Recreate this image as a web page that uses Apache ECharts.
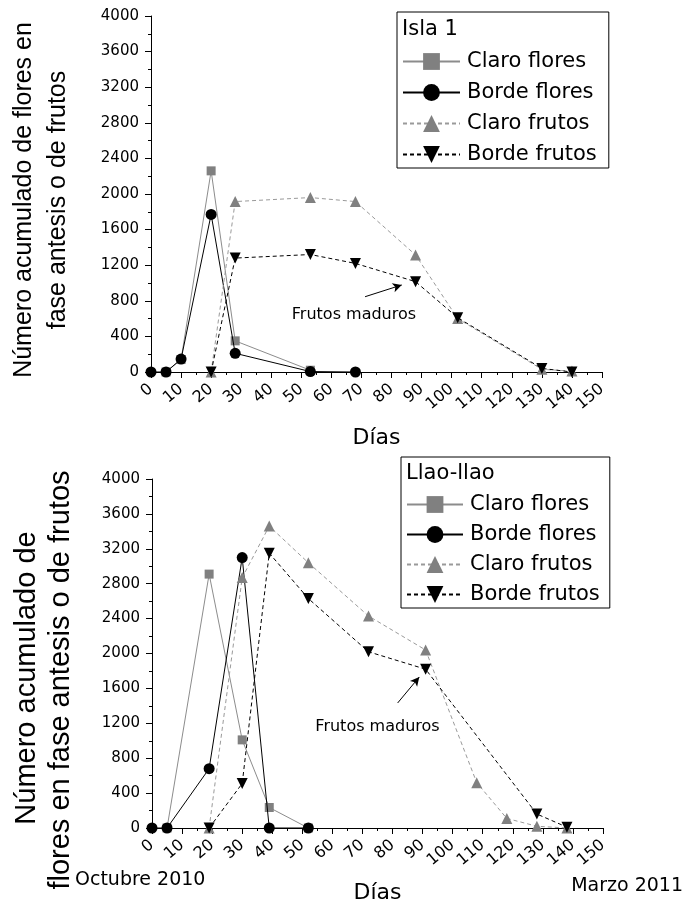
<!DOCTYPE html>
<html>
<head>
<meta charset="utf-8">
<script src="https://cdn.jsdelivr.net/npm/echarts@6/dist/echarts.min.js"></script>
<style>html,body{margin:0;padding:0;background:#fff}#c{width:686px;height:905px}</style>
</head>
<body>
<div id="c"></div>
<script>
// ---------- Data: Isla 1 (top) ----------
const islaClaroFloresX = [5, 10, 20, 28, 53];
const islaClaroFloresY = [0, 140, 2260, 350, 20];
const islaBordeFloresX = [0, 5, 10, 20, 28, 53, 68];
const islaBordeFloresY = [0, 0, 145, 1770, 210, 5, 0];
const islaClaroFrutosX = [20, 28, 53, 68, 88, 102, 130, 140];
const islaClaroFrutosY = [0, 1915, 1960, 1915, 1315, 600, 30, 10];
const islaBordeFrutosX = [20, 28, 53, 68, 88, 102, 130, 140];
const islaBordeFrutosY = [0, 1280, 1320, 1220, 1015, 610, 40, 0];

// ---------- Data: Llao-llao (bottom) ----------
const llaoClaroFloresX = [5, 19, 30, 39, 52];
const llaoClaroFloresY = [0, 2910, 1010, 235, 0];
const llaoBordeFloresX = [0, 5, 19, 30, 39, 52];
const llaoBordeFloresY = [0, 0, 680, 3100, 0, 0];
const llaoClaroFrutosX = [19, 30, 39, 52, 72, 91, 108, 118, 128, 138];
const llaoClaroFrutosY = [0, 2870, 3460, 3040, 2430, 2040, 520, 110, 20, 0];
const llaoBordeFrutosX = [19, 30, 39, 52, 72, 91, 128, 138];
const llaoBordeFrutosY = [0, 510, 3150, 2630, 2020, 1820, 160, 10];

// ---------- Annotations (data coordinates) ----------
const islaNoteText = [67.5, 640];
const islaArrowFrom = [71.2, 846];
const islaArrowTo = [83.4, 978];
const llaoNoteText = [75, 1158];
const llaoArrowFrom = [81.7, 1433];
const llaoArrowTo = [88.9, 1731];

// ---------- Labels ----------
const seriesNames = ['Claro flores', 'Borde flores', 'Claro frutos', 'Borde frutos'];
const panelTitles = ['Isla 1', 'Llao-llao'];
const yTitleTop = ['Número acumulado de flores en', 'fase antesis o de frutos'];
const yTitleBottom = ['Número acumulado de', 'flores en fase antesis o de frutos'];
const xTitle = 'Días';
const noteLabel = 'Frutos maduros';
const startLabel = 'Octubre 2010';
const endLabel = 'Marzo 2011';

const zip = (xs, ys) => xs.map((x, i) => [x, ys[i]]);
const F = 'DejaVu Sans';
const GRAY = '#808080';

const styles = [
  {symbol: 'rect', size: 9, color: GRAY, line: {color: '#8c8c8c', width: 1, type: 'solid'}},
  {symbol: 'circle', size: 11, color: '#000', line: {color: '#000', width: 1, type: 'solid'}},
  {symbol: 'triangle', size: 11, color: GRAY, line: {color: '#9a9a9a', width: 1, type: [4, 3]}},
  {symbol: 'triangle', size: 11, rotate: 180, color: '#000', line: {color: '#000', width: 1, type: [4, 3]}}
];

function makeSeries(idx, datasets, note) {
  return datasets.map((d, i) => {
    const s = styles[i];
    const ser = {
      name: seriesNames[i], type: 'line', xAxisIndex: idx, yAxisIndex: idx,
      data: d, symbol: s.symbol, symbolSize: s.size, symbolRotate: s.rotate || 0,
      itemStyle: {color: s.color, borderWidth: 0}, lineStyle: s.line,
      clip: false, z: 2 + i, animation: false
    };
    if (i === 3) {
      ser.markLine = {
        silent: true, animation: false, symbol: ['none', 'arrow'], symbolSize: [7, 9],
        lineStyle: {color: '#000', width: 1, type: 'solid'}, label: {show: false},
        data: [[{coord: note.from}, {coord: note.to}]]
      };
      ser.markPoint = {
        silent: true, animation: false, symbol: 'rect', symbolSize: 1,
        itemStyle: {color: 'rgba(0,0,0,0)'},
        label: {show: true, position: 'inside', formatter: noteLabel, color: '#000', fontFamily: F, fontSize: 16},
        data: [{coord: note.text}]
      };
    }
    return ser;
  });
}

function xAxis(idx) {
  return {
    gridIndex: idx, type: 'value', min: 0, max: 150, interval: 10,
    name: xTitle, nameLocation: 'middle', nameGap: 55,
    nameTextStyle: {fontFamily: F, fontSize: 22, color: '#000'},
    axisLine: {show: true, onZero: false, lineStyle: {color: '#000', width: 1}},
    axisTick: {show: true, length: 6, inside: false, lineStyle: {color: '#000'}},
    minorTick: {show: true, splitNumber: 2, length: 3, lineStyle: {color: '#000'}},
    splitLine: {show: false},
    axisLabel: {rotate: 40, margin: 15, fontFamily: F, fontSize: 16, color: '#000', showMinLabel: true, showMaxLabel: true,
      formatter: v => String(v)}
  };
}
function yAxis(idx) {
  return {
    gridIndex: idx, type: 'value', min: 0, max: 4000, interval: 400,
    axisLine: {show: true, onZero: false, lineStyle: {color: '#000', width: 1}},
    axisTick: {show: true, length: 6, inside: false, lineStyle: {color: '#000'}},
    minorTick: {show: true, splitNumber: 2, length: 3, lineStyle: {color: '#000'}},
    splitLine: {show: false},
    axisLabel: {margin: 12, fontFamily: F, fontSize: 15, color: '#000', formatter: v => String(v)}
  };
}

const chart = echarts.init(document.getElementById('c'), null, {renderer: 'canvas'});

const legendCommon = {
  orient: 'vertical', data: seriesNames, borderColor: '#000', borderWidth: 1,
  backgroundColor: '#fff', itemHeight: 21, selectedMode: false,
  textStyle: {fontFamily: F, fontSize: 21, color: '#000', padding: [0, 0, 0, 2]},
  z: 10
};

const option = {
  animation: false,
  backgroundColor: '#fff',
  title: [
    {text: panelTitles[0], left: 402, top: 19, padding: 0, textStyle: {fontFamily: F, fontSize: 21, fontWeight: 'normal', color: '#000'}, z: 11},
    {text: panelTitles[1], left: 406, top: 463, padding: 0, textStyle: {fontFamily: F, fontSize: 21, fontWeight: 'normal', color: '#000'}, z: 11}
  ],
  legend: [
    Object.assign({}, legendCommon, {left: 397, top: 12, padding: [39, 12, 3, 5], itemWidth: 57, itemGap: 10}),
    Object.assign({}, legendCommon, {left: 401, top: 457, padding: [37, 10, 3, 5], itemWidth: 56, itemGap: 9})
  ],
  grid: [
    {left: 151, top: 16, width: 451, height: 356},
    {left: 152, top: 479, width: 451, height: 349}
  ],
  xAxis: [xAxis(0), Object.assign(xAxis(1), {nameGap: 54})],
  yAxis: [yAxis(0), yAxis(1)],
  graphic: [
    {type: 'text', x: 24, y: 200, rotation: Math.PI / 2, style: {text: yTitleTop[0], font: '25px "Liberation Sans"', fill: '#000', align: 'center', verticalAlign: 'middle'}},
    {type: 'text', x: 58, y: 200, rotation: Math.PI / 2, style: {text: yTitleTop[1], font: '25px "Liberation Sans"', fill: '#000', align: 'center', verticalAlign: 'middle'}},
    {type: 'text', x: 27, y: 678, rotation: Math.PI / 2, style: {text: yTitleBottom[0], font: '29px "Liberation Sans"', fill: '#000', align: 'center', verticalAlign: 'middle'}},
    {type: 'text', x: 61, y: 680, rotation: Math.PI / 2, style: {text: yTitleBottom[1], font: '29px "Liberation Sans"', fill: '#000', align: 'center', verticalAlign: 'middle'}},
    {type: 'text', x: 75, y: 880, style: {text: startLabel, font: '19px "DejaVu Sans"', fill: '#000', align: 'left', verticalAlign: 'middle'}},
    {type: 'text', x: 683, y: 886, style: {text: endLabel, font: '19px "DejaVu Sans"', fill: '#000', align: 'right', verticalAlign: 'middle'}}
  ],
  series: [].concat(
    makeSeries(0, [
      zip(islaClaroFloresX, islaClaroFloresY),
      zip(islaBordeFloresX, islaBordeFloresY),
      zip(islaClaroFrutosX, islaClaroFrutosY),
      zip(islaBordeFrutosX, islaBordeFrutosY)
    ], {text: islaNoteText, from: islaArrowFrom, to: islaArrowTo}),
    makeSeries(1, [
      zip(llaoClaroFloresX, llaoClaroFloresY),
      zip(llaoBordeFloresX, llaoBordeFloresY),
      zip(llaoClaroFrutosX, llaoClaroFrutosY),
      zip(llaoBordeFrutosX, llaoBordeFrutosY)
    ], {text: llaoNoteText, from: llaoArrowFrom, to: llaoArrowTo})
  )
};
chart.setOption(option);
</script>
</body>
</html>
